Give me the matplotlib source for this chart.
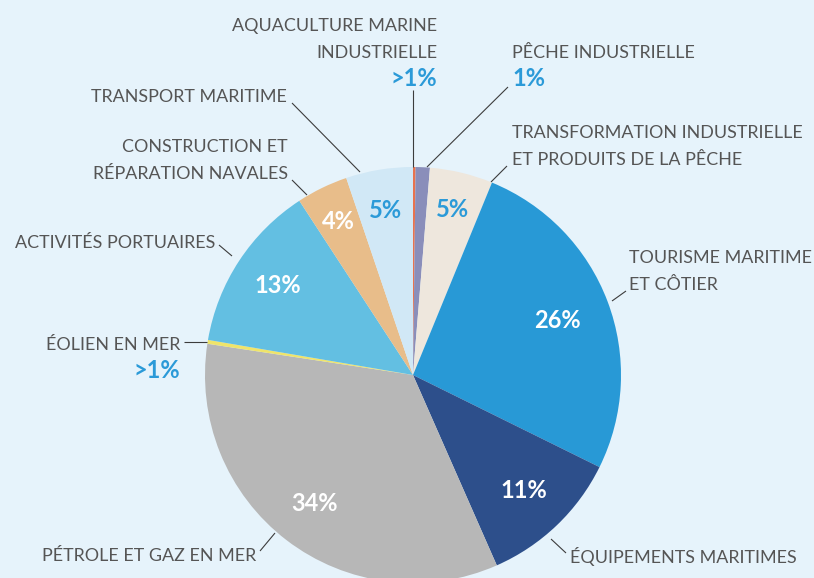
import numpy as np
import matplotlib
matplotlib.use("Agg")
import matplotlib.pyplot as plt

# slices clockwise from 12 o'clock
sectors = [
    "AQUACULTURE MARINE INDUSTRIELLE",
    "PÊCHE INDUSTRIELLE",
    "TRANSFORMATION INDUSTRIELLE ET PRODUITS DE LA PÊCHE",
    "TOURISME MARITIME ET CÔTIER",
    "ÉQUIPEMENTS MARITIMES",
    "PÉTROLE ET GAZ EN MER",
    "ÉOLIEN EN MER",
    "ACTIVITÉS PORTUAIRES",
    "CONSTRUCTION ET RÉPARATION NAVALES",
    "TRANSPORT MARITIME",
]
shares = [0.2, 1.1, 4.9, 26.1, 11.1, 34.0, 0.3, 13.1, 4.0, 5.2]
pct_labels = [">1%", "1%", "5%", "26%", "11%", "34%", ">1%", "13%", "4%", "5%"]

colors = ["#E8734F", "#8A8EBA", "#EEE7DD", "#2899D6", "#2D4F8B",
          "#B7B7B7", "#EFE46A", "#63BFE2", "#E8BD8A", "#D1E8F6"]
pct_colors = [None, None, "#2B9AD8", "white", "white", "white",
              None, "white", "white", "#2B9AD8"]
pct_dist = [0, 0, 0.82, 0.74, 0.77, 0.78, 0, 0.78, 0.82, 0.80]

BG = "#E6F3FB"
TXT = "#555555"
BLUE = "#2B9AD8"
W, H = 814, 578
CX, CY, R = 413, 375, 208

plt.rcParams["font.family"] = ["Lato", "DejaVu Sans"]


def Y(y):
    return H - y


fig = plt.figure(figsize=(W / 100, H / 100), dpi=100)
fig.patch.set_facecolor(BG)
ax = fig.add_axes([0, 0, 1, 1])
ax.set_facecolor(BG)

wedges, _ = ax.pie(shares, colors=colors, startangle=90, counterclock=False,
                   radius=R, center=(CX, Y(CY)),
                   wedgeprops=dict(linewidth=0))

for w, lab, c, d in zip(wedges, pct_labels, pct_colors, pct_dist):
    if c is None:
        continue
    mid = np.deg2rad((w.theta1 + w.theta2) / 2)
    x = CX + d * R * np.cos(mid)
    y = Y(CY) + d * R * np.sin(mid)
    ax.text(x, y, lab, color=c, fontsize=17, fontweight="bold",
            ha="center", va="center")

# outside labels: (lines, x, first line y, ha)
LS = 27
outside = [
    (["AQUACULTURE MARINE", "INDUSTRIELLE"], 437, 26, "right"),
    (["PÊCHE INDUSTRIELLE"], 512, 53, "left"),
    (["TRANSFORMATION INDUSTRIELLE", "ET PRODUITS DE LA PÊCHE"], 512, 133, "left"),
    (["TOURISME MARITIME", "ET CÔTIER"], 629, 258, "left"),
    (["ÉQUIPEMENTS MARITIMES"], 570, 556, "left"),
    (["PÉTROLE ET GAZ EN MER"], 256, 556, "right"),
    (["ÉOLIEN EN MER"], 180, 345, "right"),
    (["ACTIVITÉS PORTUAIRES"], 215, 243, "right"),
    (["CONSTRUCTION ET", "RÉPARATION NAVALES"], 288, 147, "right"),
    (["TRANSPORT MARITIME"], 287, 97, "right"),
]
for lines, x, y0, ha in outside:
    for i, line in enumerate(lines):
        ax.text(x, Y(y0 + i * LS), line, color=TXT, fontsize=12.9,
                fontweight="normal", ha=ha, va="center")

# small-share values shown outside
for txt, x, y, ha in [(">1%", 437, 78, "right"), ("1%", 512, 78, "left"),
                      (">1%", 180, 370, "right")]:
    ax.text(x, Y(y), txt, color=BLUE, fontsize=17, fontweight="bold", ha=ha, va="center")

leaders = [
    ((413, 90), (413, 167)),
    ((508, 87), (427, 167)),
    ((507, 166), (491, 182)),
    ((626, 291), (612, 301)),
    ((566, 553), (551, 539)),
    ((260, 551), (275, 533)),
    ((184, 342), (207, 342)),
    ((219, 245), (232, 256)),
    ((292, 180), (307, 195)),
    ((292, 103), (360, 172)),
]
for (x0, y0), (x1, y1) in leaders:
    ax.plot([x0, x1], [Y(y0), Y(y1)], color="#3C3C3C", lw=0.8, solid_capstyle="butt")

ax.set_xlim(0, W)
ax.set_ylim(0, H)
ax.set_aspect("equal")
ax.axis("off")

fig.savefig("out.png", dpi=100, facecolor=BG)
